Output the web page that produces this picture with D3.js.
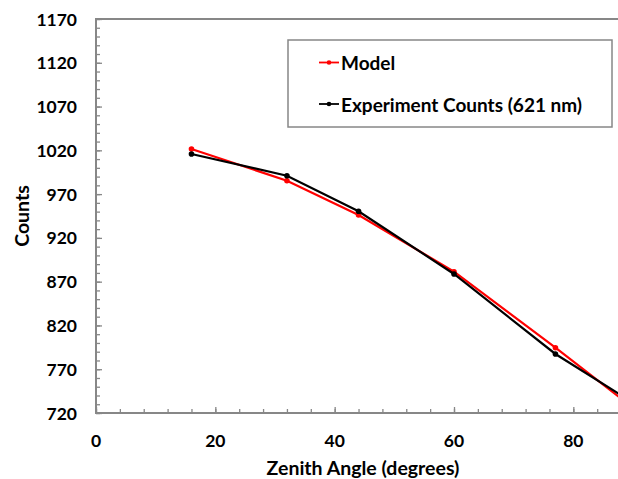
<!DOCTYPE html>
<html><head><meta charset="utf-8">
<script src="https://cdn.jsdelivr.net/npm/d3@7"></script>
<style>body{margin:0;background:#fff}svg{display:block}text{font-family:Lato,"Open Sans",sans-serif;font-weight:bold;fill:#000}</style>
</head><body>
<svg id="c" width="618" height="479"></svg>
<script>
const angles = [16, 32, 44, 60, 77, 90];
const modelCounts = [1021.5, 985.3, 946.2, 881.4, 794.6, 726];
const experimentCounts = [1015.8, 991, 950.4, 878.8, 787.4, 731.7];
const seriesNames = ["Model", "Experiment Counts (621 nm)"];
const seriesColors = ["#ff0000", "#000000"];
const yTicks = d3.range(720, 1171, 50);
const xTicks = [0, 20, 40, 60, 80];

const svg = d3.select("#c");
const L = 96, T = 19, B = 413, R = 633;
const x = d3.scaleLinear().domain([0, 90]).range([L, R]);
const y = d3.scaleLinear().domain([720, 1170]).range([B, T]);
const axisCol = "#878787";

// top border
svg.append("line").attr("x1", L).attr("x2", R).attr("y1", T).attr("y2", T)
  .attr("stroke", axisCol).attr("stroke-width", 2);

// y axis
const ya = svg.append("g").attr("transform", `translate(${L},0)`);
ya.call(d3.axisRight(y).tickValues(d3.range(720, 1171, 10)).tickSize(4).tickFormat(""));
ya.selectAll(".tick line").attr("stroke", axisCol).attr("stroke-width", 1.3);
ya.select(".domain").remove();
const ya2 = svg.append("g").attr("transform", `translate(${L},0)`);
ya2.call(d3.axisRight(y).tickValues(yTicks).tickSize(6).tickFormat(""));
ya2.selectAll(".tick line").attr("stroke", axisCol).attr("stroke-width", 1.3);
ya2.select(".domain").remove();
svg.append("line").attr("x1", L).attr("x2", L).attr("y1", T - 1).attr("y2", B)
  .attr("stroke", axisCol).attr("stroke-width", 2);
svg.append("g").selectAll("text").data(yTicks).join("text")
  .attr("x", 77).attr("y", d => y(d)).attr("text-anchor", "end")
  .attr("dominant-baseline", "central").style("font-size", "17.5px").text(d => d);

// x axis
const xa = svg.append("g").attr("transform", `translate(0,${B})`);
xa.call(d3.axisTop(x).tickValues(d3.range(0, 91, 4)).tickSize(4).tickFormat(""));
xa.selectAll(".tick line").attr("stroke", axisCol).attr("stroke-width", 1.3);
xa.select(".domain").remove();
const xa2 = svg.append("g").attr("transform", `translate(0,${B})`);
xa2.call(d3.axisTop(x).tickValues(d3.range(0, 91, 20)).tickSize(6).tickFormat(""));
xa2.selectAll(".tick line").attr("stroke", axisCol).attr("stroke-width", 1.3);
xa2.select(".domain").remove();
svg.append("line").attr("x1", L - 1).attr("x2", R).attr("y1", B).attr("y2", B)
  .attr("stroke", axisCol).attr("stroke-width", 2);
svg.append("g").selectAll("text").data(xTicks).join("text")
  .attr("x", d => x(d)).attr("y", 440).attr("text-anchor", "middle")
  .attr("dominant-baseline", "central").style("font-size", "17.5px").text(d => d);

// titles
svg.append("text").attr("x", 363).attr("y", 467).attr("text-anchor", "middle")
  .attr("dominant-baseline", "central").style("font-size", "19.5px").text("Zenith Angle (degrees)");
svg.append("text").attr("transform", "translate(21,216) rotate(-90)").attr("text-anchor", "middle")
  .attr("dominant-baseline", "central").style("font-size", "19.5px").text("Counts");

// series
const series = [modelCounts, experimentCounts];
const line = d3.line().x((d, i) => x(angles[i])).y(d => y(d));
series.forEach((vals, s) => {
  svg.append("path").datum(vals).attr("d", line).attr("fill", "none")
    .attr("stroke", seriesColors[s]).attr("stroke-width", 2.2);
  svg.append("g").selectAll("circle").data(vals).join("circle")
    .attr("cx", (d, i) => x(angles[i])).attr("cy", d => y(d)).attr("r", 2.8)
    .attr("fill", seriesColors[s]);
});

// legend
svg.append("rect").attr("x", 288).attr("y", 40).attr("width", 324).attr("height", 87)
  .attr("fill", "#fff").attr("stroke", axisCol).attr("stroke-width", 1.5);
const ly = [62.5, 104];
seriesNames.forEach((n, s) => {
  svg.append("line").attr("x1", 319).attr("x2", 339).attr("y1", ly[s]).attr("y2", ly[s])
    .attr("stroke", seriesColors[s]).attr("stroke-width", 1.8);
  svg.append("circle").attr("cx", 329).attr("cy", ly[s]).attr("r", 2.3).attr("fill", seriesColors[s]);
  svg.append("text").attr("x", 341).attr("y", ly[s]).attr("dominant-baseline", "central")
    .style("font-size", "19px").text(n);
});
</script>
</body></html>
